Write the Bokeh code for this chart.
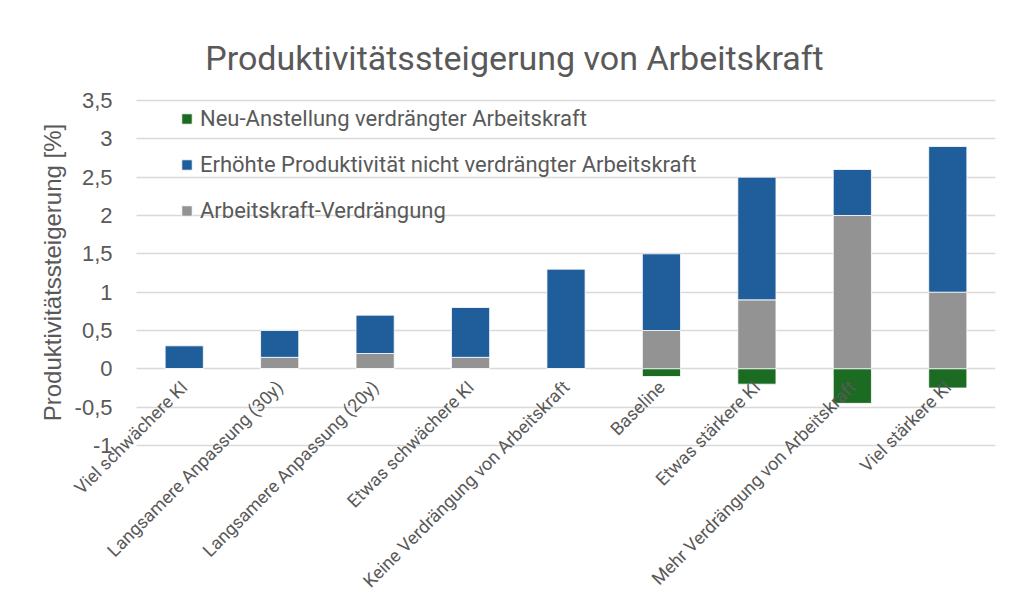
import math
from bokeh.plotting import figure
from bokeh.models import (ColumnDataSource, FixedTicker, Legend, LegendItem, Label, Range1d)
from bokeh.embed import file_html
from bokeh.resources import INLINE

categories = [
    "Viel schwächere KI",
    "Langsamere Anpassung (30y)",
    "Langsamere Anpassung (20y)",
    "Etwas schwächere KI",
    "Keine Verdrängung von Arbeitskraft",
    "Baseline",
    "Etwas stärkere KI",
    "Mehr Verdrängung von Arbeitskraft",
    "Viel stärkere KI",
]
verdraengung = [0.0, 0.15, 0.2, 0.15, 0.0, 0.5, 0.9, 2.0, 1.0]
produktivitaet = [0.3, 0.35, 0.5, 0.65, 1.3, 1.0, 1.6, 0.6, 1.9]
neuanstellung = [0.0, 0.0, 0.0, 0.0, 0.0, -0.1, -0.2, -0.45, -0.25]

y_ticks = [-1, -0.5, 0, 0.5, 1, 1.5, 2, 2.5, 3, 3.5]
y_tick_labels = ["-1", "-0,5", "0", "0,5", "1", "1,5", "2", "2,5", "3", "3,5"]

series_names = [
    "Neu-Anstellung verdrängter Arbeitskraft",
    "Erhöhte Produktivität nicht verdrängter Arbeitskraft",
    "Arbeitskraft-Verdrängung",
]
title_text = "Produktivitätssteigerung von Arbeitskraft"
y_title = "Produktivitätssteigerung [%]"

GREEN = "#1B6B23"
BLUE = "#205E9B"
GRAY = "#939393"
TEXT = "#595959"

# category slots 0..n on a numeric axis; each bar sits in the middle of its slot
n = len(categories)
x_pos = [i + 0.5 for i in range(n)]

source = ColumnDataSource(dict(
    x=x_pos,
    cat=categories,
    verdraengung=verdraengung,
    produktivitaet=produktivitaet,
    neu=neuanstellung,
))

# The frame spans the whole canvas so that the rotated category labels,
# the y tick labels and the title (all inside the frame) are not clipped.
p = figure(
    x_range=Range1d(-1.425, n), y_range=Range1d(-2.917, 4.804),
    width=1008, height=592,
    output_backend="svg", toolbar_location=None,
    min_border_left=0, min_border_right=13,
    min_border_top=0, min_border_bottom=0,
)
p.outline_line_color = None
p.background_fill_color = "white"
p.border_fill_color = "white"

stack = p.vbar_stack(["verdraengung", "produktivitaet"], x="x", width=0.4,
                     color=[GRAY, BLUE], line_color="white", line_width=0.8,
                     source=source)
neg = p.vbar(x="x", top="neu", bottom=0, width=0.4, color=GREEN,
             line_color="white", line_width=0.8, source=source)

# Title
p.add_layout(Label(x=514, y=535, x_units="screen", y_units="screen",
                   text=title_text, text_font="Roboto", text_font_size="34px",
                   text_color=TEXT, text_align="center",
                   text_baseline="alphabetic"))

# y axis title (centred on the -1 .. 3,5 span)
p.add_layout(Label(x=52, y=592 - 272, x_units="screen", y_units="screen",
                   angle=math.pi / 2, text=y_title,
                   text_font="Liberation Sans", text_font_size="24px",
                   text_color=TEXT, text_align="center",
                   text_baseline="middle"))

# y axis at the left end of the category slots
p.yaxis.fixed_location = 0
p.yaxis.bounds = (y_ticks[0], y_ticks[-1])
p.yaxis.ticker = FixedTicker(ticks=y_ticks)
p.yaxis.major_label_overrides = {t: l for t, l in zip(y_ticks, y_tick_labels)}
p.yaxis.major_label_text_font = "Liberation Sans"
p.yaxis.major_label_text_font_size = "22px"
p.yaxis.major_label_text_color = TEXT
p.yaxis.major_label_standoff = 18
p.yaxis.axis_line_color = None
p.yaxis.major_tick_line_color = None
p.yaxis.minor_tick_line_color = None

# x axis at zero
p.xaxis.fixed_location = 0
p.xaxis.ticker = FixedTicker(ticks=x_pos)
p.xaxis.major_label_overrides = {x: c for x, c in zip(x_pos, categories)}
p.xaxis.major_label_orientation = math.pi / 4
p.xaxis.major_label_text_font = "Roboto"
p.xaxis.major_label_text_font_size = "18px"
p.xaxis.major_label_text_color = TEXT
p.xaxis.major_label_standoff = 9
p.xaxis.axis_line_color = None
p.xaxis.major_tick_line_color = None
p.xaxis.minor_tick_line_color = None

p.xgrid.grid_line_color = None
p.ygrid.grid_line_color = "#D9D9D9"
p.ygrid.grid_line_width = 1.5
p.ygrid.ticker = FixedTicker(ticks=y_ticks)
p.ygrid.cross_bounds = (0, n)

legend = Legend(
    items=[
        LegendItem(label=series_names[0], renderers=[neg]),
        LegendItem(label=series_names[1], renderers=[stack[1]]),
        LegendItem(label=series_names[2], renderers=[stack[0]]),
    ],
    location=(180, 369),
    glyph_width=13, glyph_height=13, label_height=26, spacing=20,
    padding=0, margin=0, label_standoff=7,
    label_text_font="Roboto", label_text_font_size="22px",
    label_text_color=TEXT, border_line_color=None,
    background_fill_alpha=0.0,
)
p.add_layout(legend, "center")

open("out.html", "w").write(file_html(p, INLINE))
